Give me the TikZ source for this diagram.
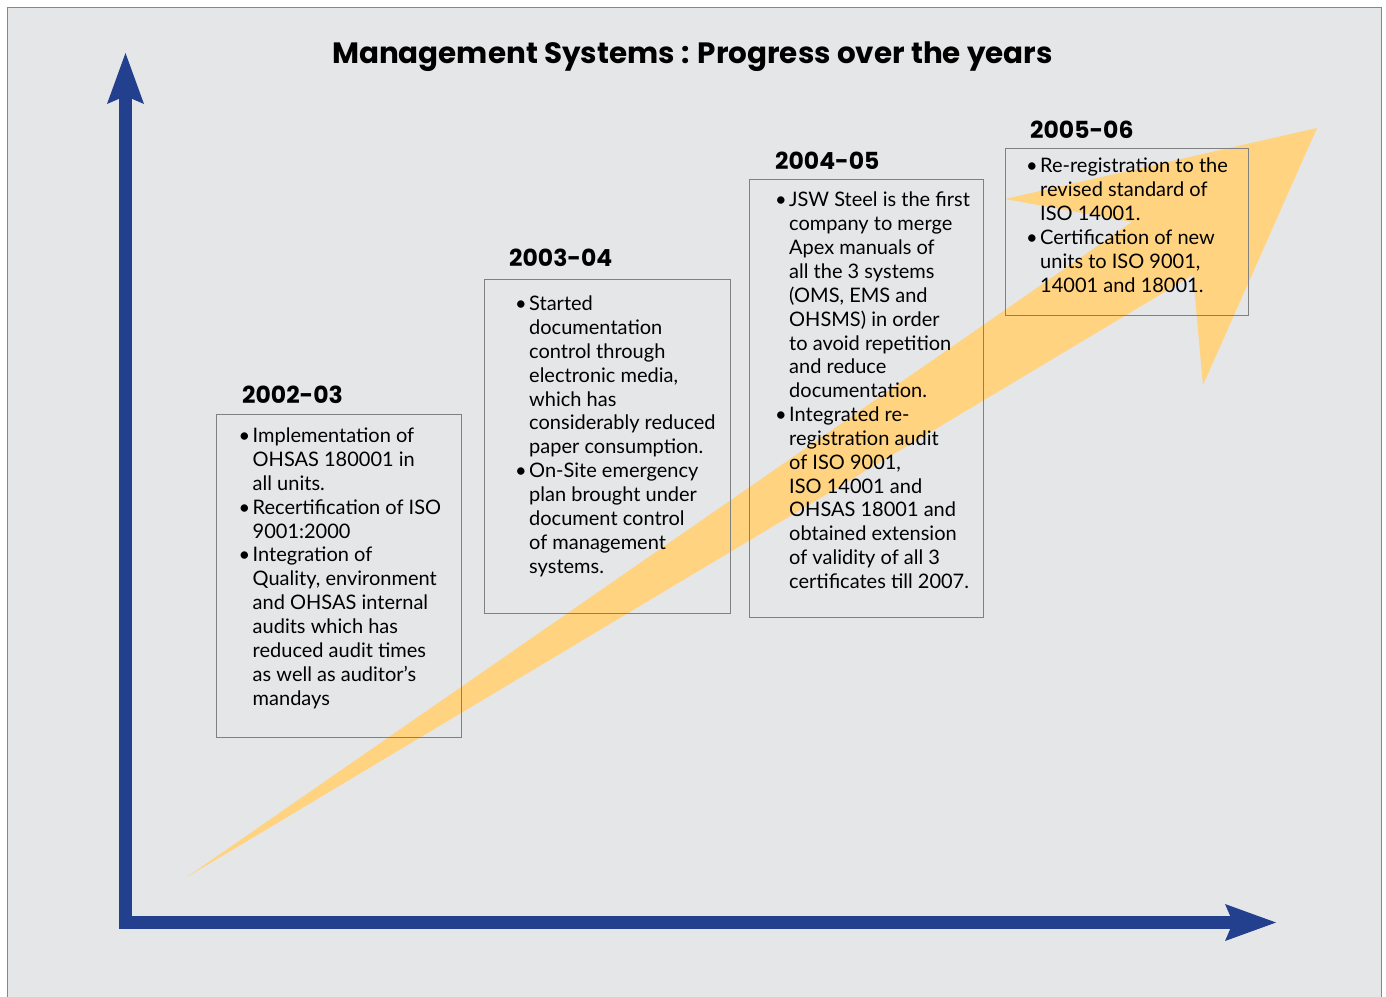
\documentclass[tikz,border=0pt]{standalone}
\usepackage{fontspec}
\setmainfont{Lato}
\newfontfamily\headfont{Poppins}
\usetikzlibrary{arrows.meta,positioning}
\definecolor{BackClr}{RGB}{229,230,232}
\definecolor{FrameClr}{RGB}{135,135,135}
\definecolor{AxisClr}{RGB}{35,64,142}
\definecolor{ArrowClr}{RGB}{255,211,128}
\definecolor{BoxClr}{RGB}{128,128,128}

% bullet and hanging indent for the lists
\newcommand{\bul}{\makebox[12.5pt][l]{\hspace{-1.5pt}\textbullet}}
\newcommand{\ind}{\hspace*{12.5pt}}

\begin{document}
\begin{tikzpicture}[x=1pt,y=-1pt,
  yearlbl/.style={inner sep=0pt,anchor=base west,font=\headfont\bfseries\fontsize{23.5}{28}\selectfont},
  % lists are placed by the baseline of their last line
  bodytxt/.style={inner sep=0pt,anchor=base west,align=left,font=\fontsize{20}{23.85}\selectfont},
  infobox/.style={draw=BoxClr,line width=1.1pt,inner sep=0pt,anchor=north west},
  axistip/.tip={Stealth[length=51pt,width=37pt,inset=8pt,line width=0pt]}]
\useasboundingbox (0,0) rectangle (1386,996);

% Background panel.
\fill[white] (0,0) rectangle (1386,996);
\filldraw[fill=BackClr,draw=FrameClr,line width=1.4pt] (7.5,7.5) rectangle (1381.5,1005);

% Rising arrow.
\fill[ArrowClr] (187,877) -- (1132,222) -- (1005,199) -- (1317,128)
  -- (1203,385) -- (1193,275) -- cycle;

% Axes.
\coordinate (ytip) at (125.5,53);
\coordinate (origin) at (125.5,922.5);
\coordinate (xtip) at (1276,922.5);
\draw[AxisClr,line width=13pt,axistip-axistip] (ytip) -- (origin) -- (xtip);

\node[font=\headfont\bfseries\fontsize{29.4}{36}\selectfont,inner sep=0pt,anchor=base] (title)
  at (692.5,63) {Management Systems : Progress over the years};

% Boxes.
\node[infobox,minimum width=245pt,minimum height=323.5pt] (box0203) at (215.5,413.5) {};
\node[infobox,minimum width=246pt,minimum height=334pt] (box0304) at (483.5,278.5) {};
\node[infobox,minimum width=234pt,minimum height=438.5pt] (box0405) at (749,178.5) {};
\node[infobox,minimum width=243pt,minimum height=167pt] (box0506) at (1004.5,148) {};

% Years.
\node[yearlbl] (yr0203) at (242,403) {2002-03};
\node[yearlbl] (yr0304) at (509,266) {2003-04};
\node[yearlbl] (yr0405) at (775,169) {2004-05};
\node[yearlbl] (yr0506) at (1030,138) {2005-06};

% Lists.
\node[bodytxt] (txt0203) at (240,705) {\bul Implementation of\\
  \ind OHSAS 180001 in\\
  \ind all units.\\
  \bul Recertification of ISO\\
  \ind 9001:2000\\
  \bul Integration of\\
  \ind Quality, environment\\
  \ind and OHSAS internal\\
  \ind audits which has\\
  \ind reduced audit times\\
  \ind as well as auditor’s\\
  \ind mandays};
\node[bodytxt] (txt0304) at (516.5,573) {\bul Started\\
  \ind documentation\\
  \ind control through\\
  \ind electronic media,\\
  \ind which has\\
  \ind considerably reduced\\
  \ind paper consumption.\\
  \bul On-Site emergency\\
  \ind plan brought under\\
  \ind document control\\
  \ind of management\\
  \ind systems.};
\node[bodytxt] (txt0405) at (776.5,588.5) {\bul JSW Steel is the first\\
  \ind company to merge\\
  \ind Apex manuals of\\
  \ind all the 3 systems\\
  \ind (OMS, EMS and\\
  \ind OHSMS) in order\\
  \ind to avoid repetition\\
  \ind and reduce\\
  \ind documentation.\\
  \bul Integrated re-\\
  \ind registration audit\\
  \ind of ISO 9001,\\
  \ind ISO 14001 and\\
  \ind OHSAS 18001 and\\
  \ind obtained extension\\
  \ind of validity of all 3\\
  \ind certificates till 2007.};
\node[bodytxt] (txt0506) at (1027.5,292) {\bul Re-registration to the\\
  \ind revised standard of\\
  \ind ISO 14001.\\
  \bul Certification of new\\
  \ind units to ISO 9001,\\
  \ind 14001 and 18001.};

\end{tikzpicture}
\end{document}
